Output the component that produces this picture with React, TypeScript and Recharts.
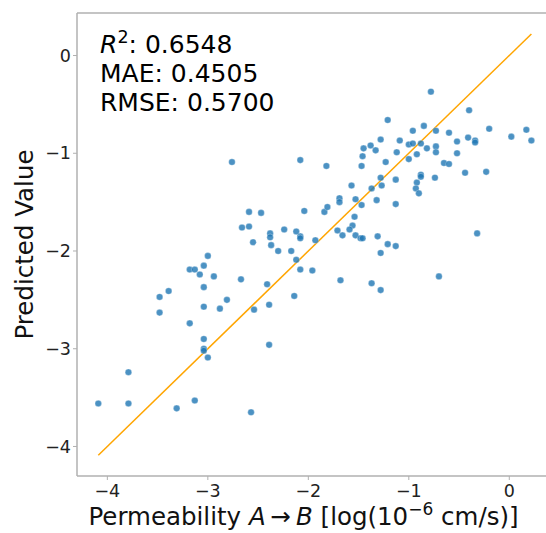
import React from "react";
import {
  ReferenceLine,
  Scatter,
  ScatterChart,
  XAxis,
  YAxis,
} from "recharts";

// measured permeability (x) and model prediction (y), one entry per compound
const measured = [
  -0.78, -1.21, -0.4, -0.96, -0.85, -0.73, -0.6, -0.2, 0.17, 0.22, 0.02, -0.41, -0.34, -0.34,
  -0.52, -1.28, -1.09, -1.0, -0.96, -0.88, -0.82, -0.73, -0.73, -1.38, -1.45, -1.33, -1.46,
  -1.12, -0.92, -1.0, -0.52, -1.23, -0.65, -0.6, -2.08, -1.82, -1.47, -0.44, -0.23, -0.88,
  -0.88, -0.74, -1.28, -1.13, -0.92, -1.57, -1.27, -1.37, -0.93, -0.9, -1.69, -1.69, -1.53,
  -1.32, -2.04, -1.84, -1.81, -1.47, -1.13, -1.54, -1.56, -1.59, -1.71, -1.66, -1.53, -1.48,
  -1.46, -1.31, -1.21, -1.13, -1.28, -2.08, -2.08, -1.93, -0.32, -2.76, -2.59, -2.47, -2.66,
  -2.59, -2.38, -2.38, -2.24, -2.12, -2.55, -2.37, -2.3, -2.17, -2.12, -2.08, -1.96, -3.0,
  -3.04, -3.18, -3.13, -3.08, -2.94, -2.67, -3.04, -3.39, -3.48, -2.41, -2.14, -2.81, -3.04,
  -2.88, -2.54, -2.39, -3.48, -3.18, -3.04, -3.04, -3.04, -3.0, -2.39, -3.79, -4.09, -3.79,
  -3.31, -3.13, -2.57, -1.68, -1.37, -1.28, -0.7,
];

const predicted = [
  -0.37, -0.66, -0.56, -0.77, -0.72, -0.77, -0.79, -0.75, -0.76, -0.87, -0.83, -0.84, -0.87,
  -0.89, -0.88, -0.86, -0.87, -0.91, -0.9, -0.9, -0.95, -0.93, -0.99, -0.92, -0.95, -0.97,
  -1.03, -0.99, -1.01, -1.06, -1.0, -1.09, -1.1, -1.11, -1.07, -1.13, -1.13, -1.2, -1.19,
  -1.22, -1.24, -1.25, -1.25, -1.27, -1.3, -1.33, -1.33, -1.36, -1.36, -1.41, -1.46, -1.5,
  -1.47, -1.48, -1.59, -1.6, -1.55, -1.53, -1.52, -1.65, -1.74, -1.78, -1.79, -1.84, -1.84,
  -1.87, -1.87, -1.85, -1.93, -1.95, -2.02, -1.85, -1.87, -1.89, -1.82, -1.09, -1.6, -1.61,
  -1.76, -1.75, -1.82, -1.86, -1.78, -1.8, -1.91, -1.94, -2.0, -2.0, -2.09, -2.19, -2.2,
  -2.05, -2.15, -2.19, -2.19, -2.24, -2.26, -2.29, -2.37, -2.41, -2.47, -2.34, -2.46, -2.5,
  -2.57, -2.59, -2.6, -2.55, -2.63, -2.74, -2.9, -3.0, -3.02, -3.09, -2.96, -3.24, -3.56,
  -3.56, -3.61, -3.53, -3.65, -2.3, -2.33, -2.4, -2.26,
];

const ticks = [-4, -3, -2, -1, 0];
const limits = [-4.302, 0.435];
const stats = [
  { name: "R2", value: "0.6548" },
  { name: "MAE", value: "0.4505" },
  { name: "RMSE", value: "0.5700" },
];

const points = measured.map((x, i) => ({ x, y: predicted[i] }));
const lo = Math.min(...measured, ...predicted);
const hi = Math.max(...measured, ...predicted);

const FONT = "DejaVu Sans, sans-serif";
const SPINE = "#b0b0b0";
const fmt = (v: number) => (v < 0 ? `\u2212${-v}` : `${v}`);

const Dot = (props: any) => (
  <circle
    cx={props.cx}
    cy={props.cy}
    r={3.3}
    fill="#1f77b4"
    fillOpacity={0.8}
    stroke="#ffffff"
    strokeOpacity={0.6}
    strokeWidth={0.5}
  />
);

export default function App() {
  return (
    <div
      style={{
        position: "absolute",
        left: 0,
        top: 0,
        width: 546,
        height: 533,
        overflow: "hidden",
        background: "#fff",
      }}
    >
      <ScatterChart
        width={553}
        height={533}
        margin={{ top: 13, right: 0, bottom: 0, left: 0 }}
      >
        <XAxis
          type="number"
          dataKey="x"
          domain={limits}
          ticks={ticks}
          allowDataOverflow
          height={57}
          tickFormatter={fmt}
          tickSize={4}
          tickMargin={5}
          axisLine={{ stroke: SPINE, strokeWidth: 1.5 }}
          tickLine={{ stroke: SPINE, strokeWidth: 1 }}
          tick={{ fill: "#222", fontSize: 17.5, fontFamily: FONT }}
        />
        <YAxis
          type="number"
          dataKey="y"
          domain={limits}
          ticks={ticks}
          allowDataOverflow
          width={77}
          tickFormatter={fmt}
          tickSize={4}
          tickMargin={2}
          axisLine={{ stroke: SPINE, strokeWidth: 1.5 }}
          tickLine={{ stroke: SPINE, strokeWidth: 1 }}
          tick={{ fill: "#222", fontSize: 17.5, fontFamily: FONT }}
        />
        <ReferenceLine y={limits[1]} stroke={SPINE} strokeWidth={1.5} />
        <ReferenceLine
          segment={[
            { x: lo, y: lo },
            { x: hi, y: hi },
          ]}
          stroke="#ffa500"
          strokeWidth={1.5}
        />
        <Scatter data={points} shape={Dot} isAnimationActive={false} />
      </ScatterChart>
      <svg
        width={546}
        height={533}
        style={{ position: "absolute", left: 0, top: 0, pointerEvents: "none" }}
        fontFamily={FONT}
      >
        {stats.map((s, i) => (
          <text key={s.name} x={100} y={53 + i * 29} fontSize={25} fill="#000">
            {s.name === "R2" ? (
              <>
                <tspan fontStyle="italic">R</tspan>
                <tspan fontSize={17.5} dy={-10}>2</tspan>
                <tspan dy={10}>{`: ${s.value}`}</tspan>
              </>
            ) : (
              `${s.name}: ${s.value}`
            )}
          </text>
        ))}
        <text x={303.5} y={525} fontSize={24.5} fill="#111" textAnchor="middle">
          <tspan>Permeability </tspan>
          <tspan fontStyle="italic">A</tspan>
          <tspan>{"\u2009\u2192\u2009"}</tspan>
          <tspan fontStyle="italic">B</tspan>
          <tspan>{" [log(10"}</tspan>
          <tspan fontSize={17} dy={-10}>{"\u22126"}</tspan>
          <tspan dy={10}>{" cm/s)]"}</tspan>
        </text>
        <text
          x={33}
          y={244.5}
          fontSize={24.5}
          fill="#111"
          textAnchor="middle"
          transform="rotate(-90, 33, 244.5)"
        >
          Predicted Value
        </text>
      </svg>
    </div>
  );
}
